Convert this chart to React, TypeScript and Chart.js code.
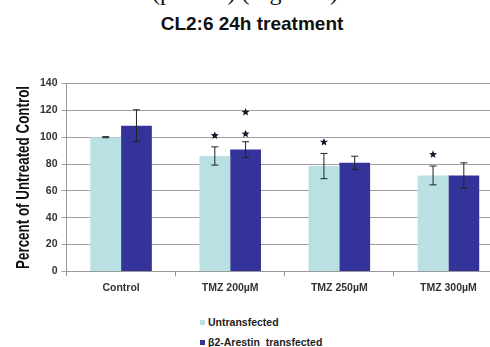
import React, { useEffect, useRef } from "react";
import { Chart, registerables } from "chart.js";

Chart.register(...registerables);

const categories = ["Control", "TMZ 200µM", "TMZ 250µM", "TMZ 300µM"];
const seriesNames = ["Untransfected", "β2-Arestin  transfected"];
const untransfected = [100, 86, 78.5, 71.5];
const untransfectedErr = [0.4, 6.8, 9.4, 7];
const transfected = [108.6, 90.8, 80.9, 71.4];
const transfectedErr = [11.8, 5.8, 4.9, 9.5];
const untransfectedStars: number[][] = [[], [101.2], [96.3], [87.1]];
const transfectedStars: number[][] = [[], [102.4, 118.6], [], []];
const yTicks = [0, 20, 40, 60, 80, 100, 120, 140];
const chartTitle = "CL2:6 24h treatment";
const yTitle = "Percent of Untreated Control";

const LIGHT = "#b9e1e3";
const DARK = "#333399";
const FONT = "'Liberation Sans', Arial, sans-serif";

const errStarPlugin = {
  id: "errStar",
  afterDatasetsDraw(chart: any) {
    const ctx = chart.ctx;
    const y = chart.scales.y;
    chart.data.datasets.forEach((ds: any, di: number) => {
      const meta = chart.getDatasetMeta(di);
      meta.data.forEach((el: any, i: number) => {
        const v = ds.data[i];
        const e = ds.errors[i];
        const x = el.x;
        const yt = y.getPixelForValue(v + e);
        const yb = y.getPixelForValue(v - e);
        ctx.save();
        ctx.strokeStyle = "#222";
        ctx.lineWidth = 1;
        ctx.beginPath();
        ctx.moveTo(x, yt);
        ctx.lineTo(x, yb);
        ctx.moveTo(x - 3.5, yt);
        ctx.lineTo(x + 3.5, yt);
        ctx.moveTo(x - 3.5, yb);
        ctx.lineTo(x + 3.5, yb);
        ctx.stroke();
        (ds.stars[i] || []).forEach((sv: number) => {
          const cy = y.getPixelForValue(sv);
          const R = 4.2, r = 1.8;
          ctx.beginPath();
          for (let k = 0; k < 10; k++) {
            const rad = k % 2 === 0 ? R : r;
            const a = -Math.PI / 2 + (k * Math.PI) / 5;
            const px = x + rad * Math.cos(a);
            const py = cy + rad * Math.sin(a);
            if (k === 0) ctx.moveTo(px, py);
            else ctx.lineTo(px, py);
          }
          ctx.closePath();
          ctx.fillStyle = "#15152a";
          ctx.fill();
        });
        ctx.restore();
      });
    });
  },
};

// condensed y-axis title, centred on the plot area
const yTitlePlugin = {
  id: "yTitleNarrow",
  afterDraw(chart: any) {
    const ctx = chart.ctx;
    const area = chart.chartArea;
    const cy = (area.top + area.bottom) / 2;
    ctx.save();
    ctx.font = `bold 19px ${FONT}`;
    const w = ctx.measureText(yTitle).width;
    const target = 183;
    ctx.translate(24, cy);
    ctx.rotate(-Math.PI / 2);
    ctx.scale(target / w, 1);
    ctx.fillStyle = "#111";
    ctx.textAlign = "center";
    ctx.textBaseline = "middle";
    ctx.fillText(yTitle, 0, 0);
    ctx.restore();
  },
};

export default function App() {
  const ref = useRef<HTMLCanvasElement>(null);
  useEffect(() => {
    if (!ref.current) return;
    const chart = new Chart(ref.current, {
      type: "bar",
      data: {
        labels: categories,
        datasets: [
          {
            label: seriesNames[0],
            data: untransfected,
            backgroundColor: LIGHT,
            errors: untransfectedErr,
            stars: untransfectedStars,
            categoryPercentage: 0.564,
            barPercentage: 1,
          } as any,
          {
            label: seriesNames[1],
            data: transfected,
            backgroundColor: DARK,
            errors: transfectedErr,
            stars: transfectedStars,
            categoryPercentage: 0.564,
            barPercentage: 1,
          } as any,
        ],
      },
      options: {
        animation: false,
        responsive: false,
        maintainAspectRatio: false,
        layout: { padding: { left: 36, right: 9, bottom: 1, top: 83.5 } },
        plugins: {
          legend: { display: false },
          tooltip: { enabled: false },
          title: { display: false },
        },
        scales: {
          x: {
            grid: {
              display: true,
              drawOnChartArea: false,
              drawTicks: true,
              tickLength: 5,
              color: "#999",
            },
            border: { color: "#999", width: 1 },
            ticks: {
              color: "#333",
              padding: 5,
              font: { family: FONT, size: 10.5, weight: "bold" },
            },
          },
          y: {
            min: 0,
            max: 140,
            afterBuildTicks: (axis: any) => {
              axis.ticks = yTicks.map((v) => ({ value: v }));
            },
            grid: { color: "#a0a0a0", tickLength: 5 },
            border: { color: "#999", width: 1 },
            ticks: {
              color: "#333",
              padding: 4,
              font: { family: FONT, size: 10.5, weight: "bold" },
            },
          },
        },
      },
      plugins: [errStarPlugin, yTitlePlugin],
    } as any);
    return () => chart.destroy();
  }, []);

  const legendItem = (color: string, text: string, top: number) => (
    <div
      style={{
        position: "absolute",
        left: 200,
        top: top - 7,
        height: 14,
        display: "flex",
        alignItems: "center",
        whiteSpace: "pre",
        font: `bold 10.5px ${FONT}`,
        color: "#222",
      }}
    >
      <span style={{ display: "inline-block", width: 5, height: 5, background: color, marginRight: 3 }} />
      {text}
    </div>
  );

  return (
    <div
      style={{
        position: "absolute",
        left: 0,
        top: 0,
        width: 490,
        height: 347,
        overflow: "hidden",
        background: "#fff",
      }}
    >
      <div
        style={{
          position: "absolute",
          left: 0,
          top: -20,
          width: 490,
          height: 26,
          textAlign: "center",
          font: "24px 'Liberation Serif', 'Times New Roman', serif",
          lineHeight: "24px",
          color: "#111",
          whiteSpace: "nowrap",
        }}
      >
        (p&lt;0.05) (Figure 3)
      </div>
      <div
        style={{
          position: "absolute",
          left: 52,
          top: 11.5,
          width: 400,
          textAlign: "center",
          font: `bold 19px ${FONT}`,
          lineHeight: "23px",
          color: "#111",
          whiteSpace: "nowrap",
        }}
      >
        {chartTitle}
      </div>
      <canvas ref={ref} width={512} height={300} style={{ position: "absolute", left: 0, top: 0, width: 512, height: 300 }} />
      {legendItem(LIGHT, seriesNames[0], 322)}
      {legendItem(DARK, seriesNames[1], 342)}
    </div>
  );
}
